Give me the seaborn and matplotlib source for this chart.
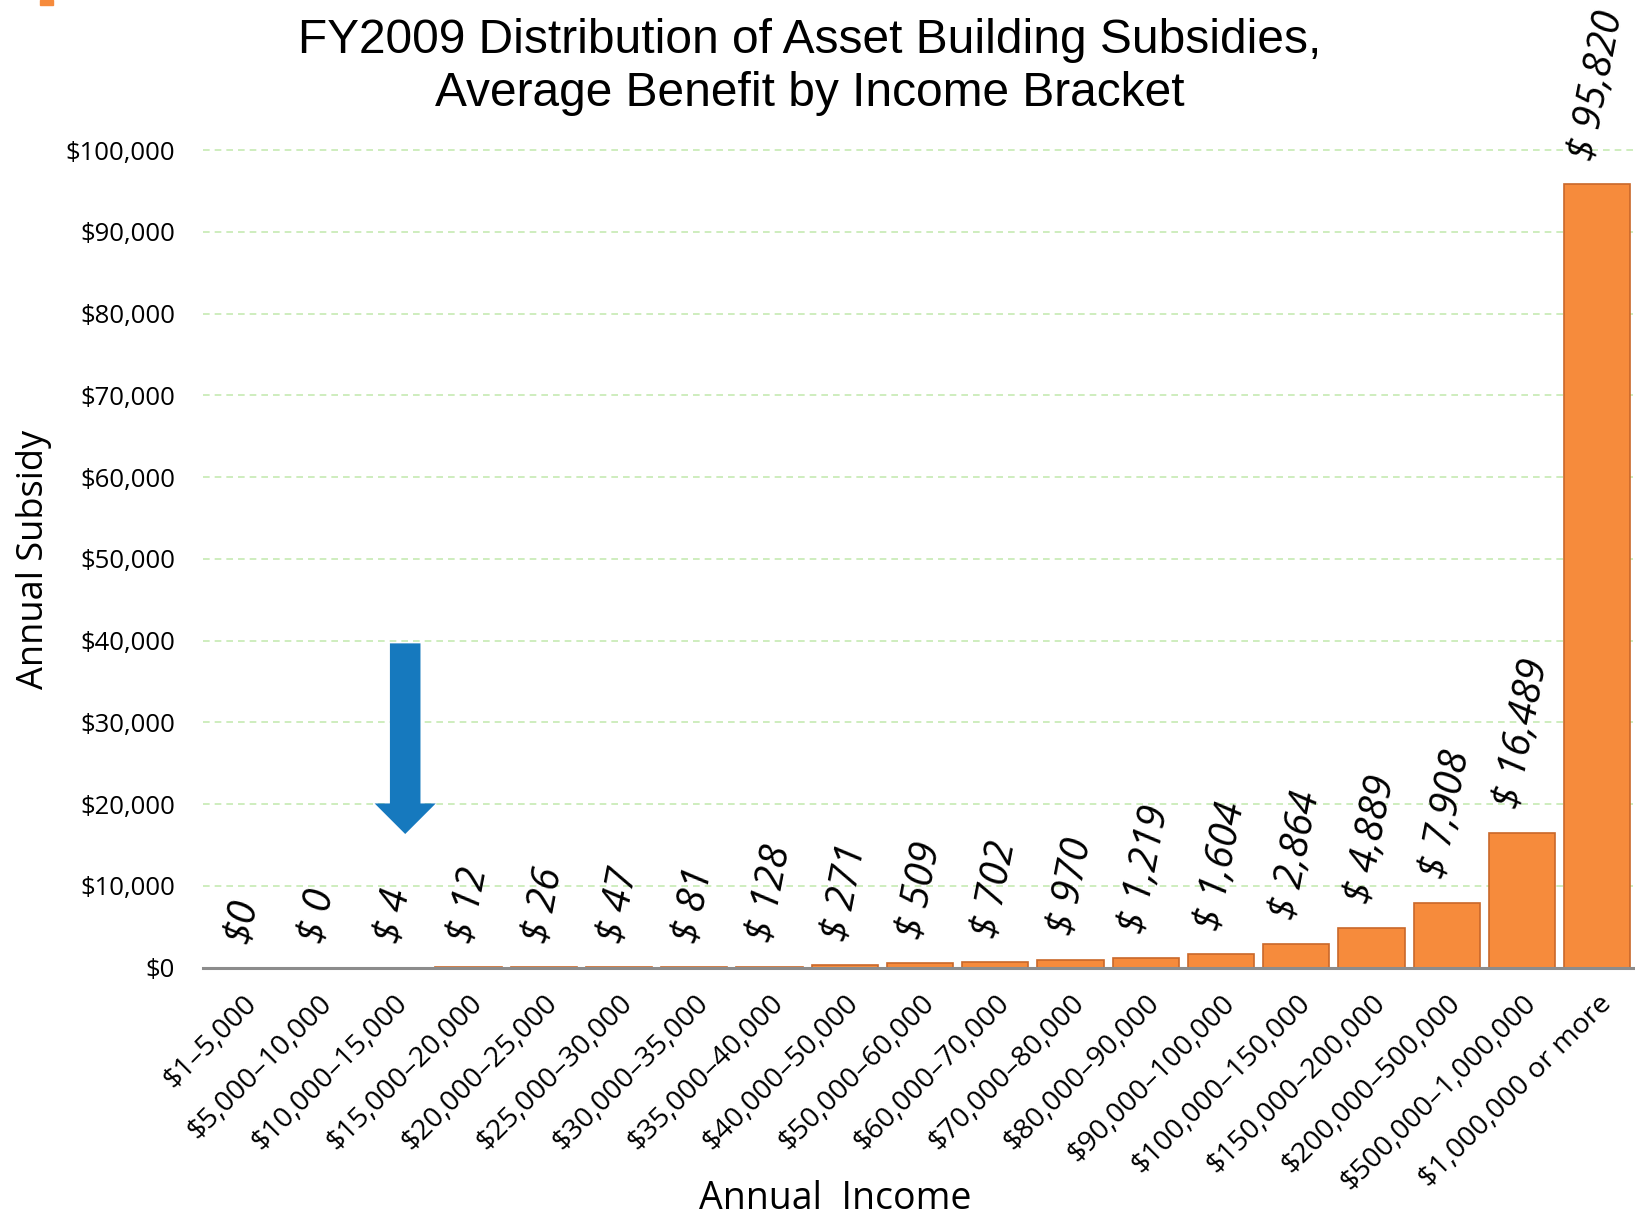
import matplotlib.pyplot as plt
import matplotlib.patches as mpatches
import pandas as pd
import seaborn as sns

# data
brackets = ['$1–5,000', '$5,000–10,000', '$10,000–15,000', '$15,000–20,000',
            '$20,000–25,000', '$25,000–30,000', '$30,000–35,000', '$35,000–40,000',
            '$40,000–50,000', '$50,000–60,000', '$60,000–70,000', '$70,000–80,000',
            '$80,000–90,000', '$90,000–100,000', '$100,000–150,000', '$150,000–200,000',
            '$200,000–500,000', '$500,000–1,000,000', '$1,000,000 or more']
subsidy = [0, 0, 4, 12, 26, 47, 81, 128, 271, 509, 702, 970, 1219, 1604,
           2864, 4889, 7908, 16489, 95820]
bar_labels = ['$0'] + ['$ {:,}'.format(v) for v in subsidy[1:]]
yticks = list(range(0, 100001, 10000))
arrow_bracket = '$10,000–15,000'
arrow_from, arrow_to = 40000, 16000

df = pd.DataFrame({'bracket': brackets, 'subsidy': subsidy})

sns.set_style('white', rc={'text.color': 'black', 'axes.labelcolor': 'black',
                           'xtick.color': 'black', 'ytick.color': 'black'})
plt.rcParams['font.family'] = ['Open Sans', 'DejaVu Sans']

fig = plt.figure(figsize=(16.35, 12.22), dpi=100)
ax = fig.add_axes([0.124, 0.2082, 0.876, 0.7024])

sns.barplot(data=df, x='bracket', y='subsidy', color='#F68B3C', width=0.88,
            edgecolor='#C9682A', linewidth=1.2, saturation=1, ax=ax)

# value labels above the bars
for i, (v, lab) in enumerate(zip(subsidy, bar_labels)):
    ax.annotate(lab, xy=(i, v), xytext=(0, 15), textcoords='offset points',
                rotation=79, ha='center', va='bottom', fontsize=28.5,
                fontstyle='italic', color='black', annotation_clip=False)

# blue arrow pointing at the $10,000-15,000 bracket
xa = brackets.index(arrow_bracket) + 0.16
ax.annotate('', xy=(xa, arrow_to), xytext=(xa, arrow_from),
            arrowprops=dict(arrowstyle='simple,head_length=1,head_width=2,tail_width=1',
                            mutation_scale=22, color='#1679BE', lw=0))

ax.set_xlim(-0.53, len(brackets) - 0.5)
ax.set_ylim(0, 105000)
ax.set_yticks(yticks)
ax.set_yticklabels(['${:,}'.format(t) for t in yticks], fontsize=18.5)
ax.tick_params(axis='y', length=0, pad=20)
ax.tick_params(axis='x', length=0, pad=16)
ax.set_xticks(range(len(brackets)))
ax.set_xticklabels(brackets, rotation=45, ha='right', rotation_mode='anchor', fontsize=20.5)

ax.yaxis.grid(True, color='#c6eab3', linestyle=(0, (4, 3)), linewidth=1.2)
ax.set_axisbelow(True)
for s in ['top', 'right', 'left']:
    ax.spines[s].set_visible(False)
ax.spines['bottom'].set_color('#8c8c8c')
ax.spines['bottom'].set_linewidth(2.2)

ax.set_xlabel('Annual  Income', fontsize=27)
ax.xaxis.label.set_va('center')
ax.xaxis.set_label_coords(0.4416, -0.27)
ax.set_ylabel('Annual Subsidy', fontsize=26)
ax.yaxis.label.set_va('center')
ax.yaxis.set_label_coords(-0.118, 0.476)

fig.text(0.495, 0.985, 'FY2009 Distribution of Asset Building Subsidies,\nAverage Benefit by Income Bracket',
         ha='center', va='top', fontsize=34.5, family='Liberation Sans', linespacing=1.22,
         color='black')

# small orange slide mark in the top-left corner
fig.patches.append(mpatches.Rectangle((0.0245, 0.996), 0.008, 0.004, transform=fig.transFigure,
                                      color='#F68B3C'))

fig.savefig('out.png', dpi=100)
